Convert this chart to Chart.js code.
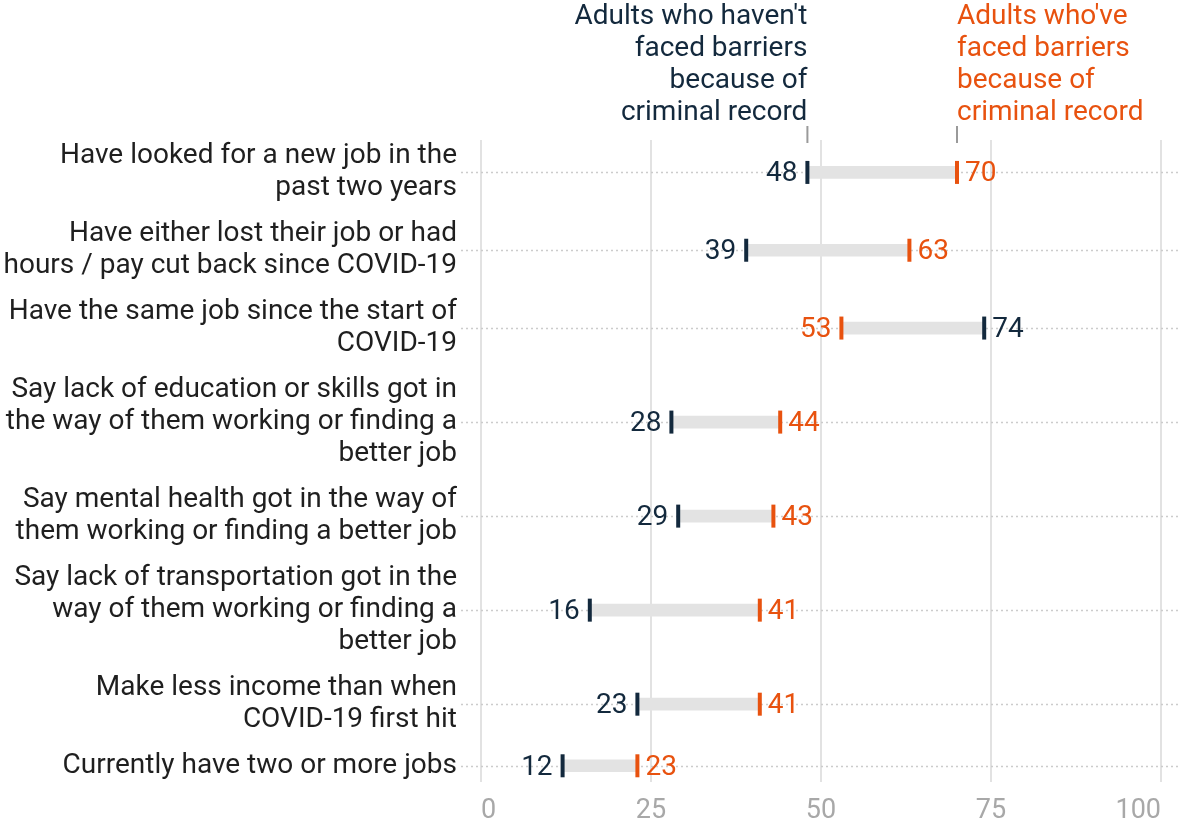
<!DOCTYPE html>
<html>
<head>
<meta charset="utf-8">
<script src="https://cdn.jsdelivr.net/npm/chart.js@4"></script>
<style>
  html, body { margin: 0; padding: 0; background: #fff; }
  #wrap { width: 1179px; height: 829px; }
</style>
</head>
<body>
<div id="wrap"><canvas id="jobsChart"></canvas></div>
<script>
const categories = [
  ['Have looked for a new job in the', 'past two years'],
  ['Have either lost their job or had', 'hours / pay cut back since COVID-19'],
  ['Have the same job since the start of', 'COVID-19'],
  ['Say lack of education or skills got in', 'the way of them working or finding a', 'better job'],
  ['Say mental health got in the way of', 'them working or finding a better job'],
  ['Say lack of transportation got in the', 'way of them working or finding a', 'better job'],
  ['Make less income than when', 'COVID-19 first hit'],
  ['Currently have two or more jobs']
];
const noBarriers = [48, 39, 74, 28, 29, 16, 23, 12];
const barriers = [70, 63, 53, 44, 43, 41, 41, 23];
const xTicks = [0, 25, 50, 75, 100];
const headerNo = ["Adults who haven't", 'faced barriers', 'because of', 'criminal record'];
const headerYes = ["Adults who've", 'faced barriers', 'because of', 'criminal record'];

const NAVY = '#13293d';
const ORANGE = '#e8520f';
const FONT = 'Roboto, "Noto Sans", sans-serif';

// rows get more room when their label wraps onto more lines
const lineCounts = categories.map(c => c.length);
const rowPos = [0];
for (let i = 1; i < categories.length; i++) {
  rowPos.push(rowPos[i - 1] + (lineCounts[i - 1] + lineCounts[i]) / 2 + 0.4);
}
const yMin = -lineCounts[0] / 2;
const yMax = rowPos[rowPos.length - 1] + lineCounts[lineCounts.length - 1] / 2;

const rowLines = {
  id: 'rowLines',
  beforeDatasetsDraw(chart) {
    const { ctx, chartArea, scales } = chart;
    ctx.save();
    ctx.strokeStyle = '#cccccc';
    ctx.lineWidth = 1.5;
    ctx.setLineDash([2, 3]);
    rowPos.forEach(p => {
      const y = Math.round(scales.y.getPixelForValue(p)) + 0.5;
      ctx.beginPath();
      ctx.moveTo(chartArea.left - 20, y);
      ctx.lineTo(chart.width, y);
      ctx.stroke();
    });
    ctx.restore();
  }
};

const valueLabels = {
  id: 'valueLabels',
  afterDatasetsDraw(chart) {
    const { ctx, chartArea } = chart;
    const navyPts = chart.getDatasetMeta(1).data;
    const orangePts = chart.getDatasetMeta(2).data;
    ctx.save();
    ctx.font = '28px ' + FONT;
    ctx.textBaseline = 'middle';
    categories.forEach((c, i) => {
      const a = { x: navyPts[i].x, y: navyPts[i].y, v: noBarriers[i], color: NAVY };
      const b = { x: orangePts[i].x, y: orangePts[i].y, v: barriers[i], color: ORANGE };
      const lo = a.v <= b.v ? a : b;
      const hi = a.v <= b.v ? b : a;
      ctx.fillStyle = lo.color;
      ctx.textAlign = 'right';
      ctx.fillText(String(lo.v), lo.x - 10, lo.y + 2);
      ctx.fillStyle = hi.color;
      ctx.textAlign = 'left';
      ctx.fillText(String(hi.v), hi.x + 8, hi.y + 2);
    });

    // series headers sit above the first row's markers
    const nx = navyPts[0].x;
    const ox = orangePts[0].x;
    headerNo.forEach((t, k) => {
      ctx.fillStyle = NAVY;
      ctx.textAlign = 'right';
      ctx.fillText(t, nx, chartArea.top - 123 + k * 32);
    });
    headerYes.forEach((t, k) => {
      ctx.fillStyle = ORANGE;
      ctx.textAlign = 'left';
      ctx.fillText(t, ox, chartArea.top - 123 + k * 32);
    });
    ctx.strokeStyle = '#9a9a9a';
    ctx.lineWidth = 2;
    [nx, ox].forEach(x => {
      ctx.beginPath();
      ctx.moveTo(x, chartArea.top - 14);
      ctx.lineTo(x, chartArea.top + 3);
      ctx.stroke();
    });
    ctx.restore();
  }
};

const markerStyle = {
  type: 'line',
  showLine: false,
  pointStyle: 'line',
  rotation: 90,
  pointRadius: 11.5,
  pointBorderWidth: 4,
  order: 0
};

new Chart(document.getElementById('jobsChart'), {
  type: 'bar',
  data: {
    datasets: [
      {
        indexAxis: 'y',
        data: rowPos.map((p, i) => ({
          x: [Math.min(noBarriers[i], barriers[i]), Math.max(noBarriers[i], barriers[i])],
          y: p
        })),
        backgroundColor: '#e3e3e3',
        borderWidth: 0,
        borderSkipped: false,
        barThickness: 12,
        order: 1
      },
      Object.assign({
        label: "Adults who haven't faced barriers because of criminal record",
        data: rowPos.map((p, i) => ({ x: noBarriers[i], y: p })),
        borderColor: NAVY,
        pointBorderColor: NAVY,
        pointBackgroundColor: NAVY
      }, markerStyle),
      Object.assign({
        label: "Adults who've faced barriers because of criminal record",
        data: rowPos.map((p, i) => ({ x: barriers[i], y: p })),
        borderColor: ORANGE,
        pointBorderColor: ORANGE,
        pointBackgroundColor: ORANGE
      }, markerStyle)
    ]
  },
  options: {
    responsive: true,
    maintainAspectRatio: false,
    animation: false,
    events: [],
    layout: { padding: { top: 140, right: 18, bottom: 0, left: 0 } },
    plugins: {
      legend: { display: false },
      tooltip: { enabled: false }
    },
    scales: {
      x: {
        type: 'linear',
        min: 0,
        max: 100,
        offset: false,
        afterBuildTicks: scale => { scale.ticks = xTicks.map(v => ({ value: v })); },
        afterFit: scale => {
          scale.height = 47;
          scale.paddingLeft = 0;
          scale.paddingRight = 0;
        },
        grid: { color: '#e2e2e2', lineWidth: 2, drawTicks: false, offset: false },
        border: { display: false },
        ticks: {
          color: '#a8a8a8',
          padding: 13,
          align: 'inner',
          font: { family: FONT, size: 27 }
        }
      },
      y: {
        type: 'linear',
        reverse: true,
        offset: false,
        min: yMin,
        max: yMax,
        afterBuildTicks: scale => { scale.ticks = rowPos.map(v => ({ value: v })); },
        afterFit: scale => {
          scale.width = 481;
          scale.paddingTop = 0;
          scale.paddingBottom = 0;
        },
        grid: { display: false, drawTicks: false, offset: false },
        border: { display: false },
        ticks: {
          color: '#1f1f1f',
          padding: 24,
          autoSkip: false,
          font: { family: FONT, size: 28, lineHeight: 1.143 },
          callback: (value, index) => categories[index]
        }
      }
    }
  },
  plugins: [rowLines, valueLabels]
});
</script>
</body>
</html>
